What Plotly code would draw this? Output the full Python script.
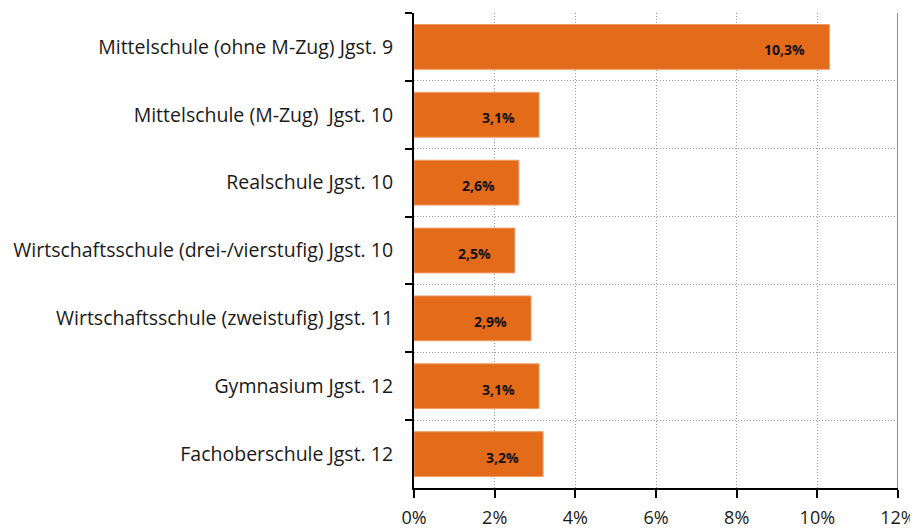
import plotly.graph_objects as go

categories = [
    "Mittelschule (ohne M-Zug) Jgst. 9",
    "Mittelschule (M-Zug)  Jgst. 10",
    "Realschule Jgst. 10",
    "Wirtschaftsschule (drei-/vierstufig) Jgst. 10",
    "Wirtschaftsschule (zweistufig) Jgst. 11",
    "Gymnasium Jgst. 12",
    "Fachoberschule Jgst. 12",
]
values = [10.3, 3.1, 2.6, 2.5, 2.9, 3.1, 3.2]
value_labels = ["10,3%", "3,1%", "2,6%", "2,5%", "2,9%", "3,1%", "3,2%"]
x_tickvals = [0, 2, 4, 6, 8, 10, 12]
x_ticktext = ["0%", "2%", "4%", "6%", "8%", "10%", "12%"]

FONT = "Open Sans"
ORANGE = "#E36B1A"
GRID = "#9a9a9a"
DOT = "1px,2px"

fig = go.Figure()
fig.add_trace(go.Bar(
    x=values,
    y=categories,
    orientation="h",
    width=0.66,
    marker=dict(color=ORANGE, line=dict(color="#F09A62", width=1)),
    hoverinfo="skip",
))

for cat, v, lab in zip(categories, values, value_labels):
    fig.add_annotation(
        x=v, y=cat, xref="x", yref="y",
        text="<b>" + lab + "</b>",
        showarrow=False, xanchor="right", yanchor="middle",
        xshift=-22, yshift=-3,
        font=dict(family=FONT, size=14, color="#111111"),
    )

# right border
fig.add_shape(type="line", xref="x", yref="paper", x0=12, x1=12, y0=0, y1=1,
              line=dict(color="#8C8C8C", width=2))

# page body has an 8px margin, so the figure is sized to fit the window
fig.update_layout(
    width=910, height=523,
    margin=dict(l=406, r=20, t=5, b=43, autoexpand=False),
    plot_bgcolor="white", paper_bgcolor="white",
    showlegend=False,
    font=dict(family=FONT, size=19.5, color="#1a1a1a"),
    xaxis=dict(
        range=[0, 12], automargin=False,
        tickvals=x_tickvals, ticktext=x_ticktext,
        showgrid=True, gridcolor=GRID, griddash=DOT, gridwidth=1,
        showline=True, linecolor="black", linewidth=2,
        ticks="outside", ticklen=8, tickwidth=2, tickcolor="black",
        ticklabelstandoff=4,
        tickfont=dict(family=FONT, size=18, color="#1a1a1a"),
        zeroline=False, fixedrange=True,
    ),
    yaxis=dict(
        type="category", autorange="reversed", automargin=False,
        tickson="boundaries",
        showgrid=True, gridcolor=GRID, griddash=DOT, gridwidth=1,
        showline=True, linecolor="black", linewidth=2,
        ticks="outside", ticklen=7, tickwidth=2, tickcolor="black",
        ticklabelstandoff=15,
        tickfont=dict(family=FONT, size=19.5, color="#1a1a1a"),
        fixedrange=True,
    ),
)

fig.write_html("out.html")
